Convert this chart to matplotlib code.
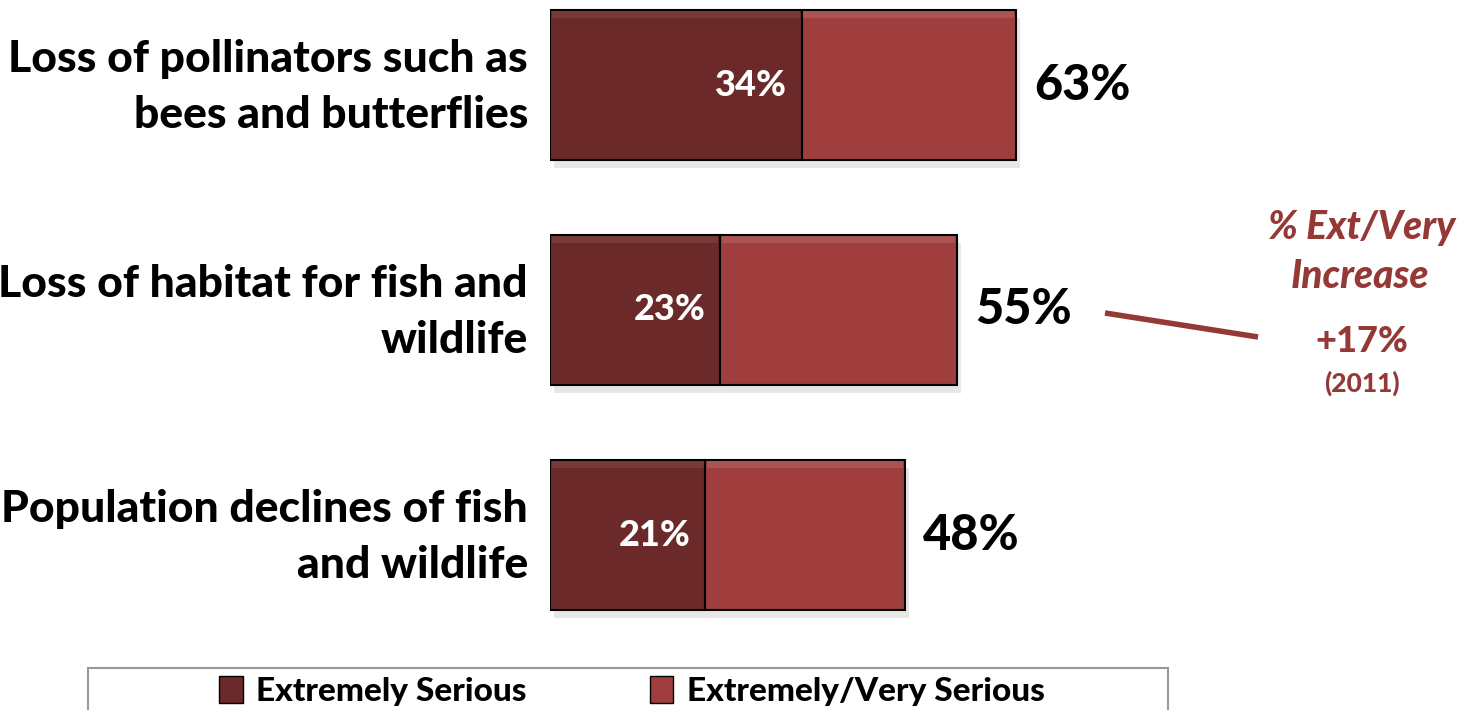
import matplotlib
matplotlib.use("Agg")
import matplotlib.pyplot as plt
from matplotlib.patches import Rectangle, Patch
from matplotlib.lines import Line2D

categories = ["Loss of pollinators such as\nbees and butterflies",
              "Loss of habitat for fish and\nwildlife",
              "Population declines of fish\nand wildlife"]
extremely = [34, 23, 21]
ext_very = [63, 55, 48]
series_names = ["Extremely Serious", "Extremely/Very Serious"]
increase_label = "+17%"
increase_year = "(2011)"

DARK = "#6B2A29"
LIGHT = "#A03D3D"
ANN = "#953937"

plt.rcParams['font.family'] = ['Lato', 'DejaVu Sans']

W, H = 1460, 710
fig = plt.figure(figsize=(W / 100, H / 100), dpi=100)
ax = fig.add_axes([550 / W, 1 - 640 / H, 1 - 550 / W, 640 / H])
ax.set_xlim(0, (W - 550) / 7.4)
ax.set_ylim(2 + 105 / 225, -85 / 225)
ax.axis("off")

bh = 150 / 225
strip = 7 / 225
for i, (e, ev) in enumerate(zip(extremely, ext_very)):
    ax.barh(i + 0.035, ev, left=0.5, height=bh, color="#b0b0b0", alpha=0.3, zorder=1)
    ax.barh(i, e, height=bh, color=DARK, edgecolor="black", linewidth=1.5, zorder=2)
    ax.barh(i, ev - e, left=e, height=bh, color=LIGHT, edgecolor="black", linewidth=1.5, zorder=2)
    # bevel highlights
    ax.barh(i - bh / 2 + strip / 2 + 0.006, e - 0.5, left=0.25, height=strip,
            color="white", alpha=0.08, linewidth=0, zorder=2.5)
    ax.barh(i - bh / 2 + strip / 2 + 0.006, ev - e - 0.5, left=e + 0.25, height=strip,
            color="white", alpha=0.12, linewidth=0, zorder=2.5)
    ax.text(e - 2.0, i, f"{e}%", color="white", fontsize=26, fontweight="black",
            ha="right", va="center", zorder=3)
    ax.text(ev + 2.4, i, f"{ev}%", color="black", fontsize=35, fontweight="black",
            ha="left", va="center", zorder=3)

for i, c in enumerate(categories):
    fig.text(528 / W, 1 - (87 + 225 * i) / H, c, ha="right", va="center",
             fontsize=32, fontweight="black", linespacing=1.5)

# annotation
fig.add_artist(Line2D([1105 / W, 1258 / W], [1 - 313 / H, 1 - 337 / H],
                      color=ANN, linewidth=4, solid_capstyle="butt"))
fig.text(1362 / W, 1 - 228 / H, "% Ext/Very", color=ANN, fontsize=28,
         fontweight="black", fontstyle="italic", ha="center", va="center")
fig.text(1360 / W, 1 - 277 / H, "Increase", color=ANN, fontsize=28,
         fontweight="black", fontstyle="italic", ha="center", va="center")
fig.text(1362 / W, 1 - 341 / H, increase_label, color=ANN, fontsize=26,
         fontweight="black", ha="center", va="center")
fig.text(1362 / W, 1 - 383 / H, increase_year, color=ANN, fontsize=19,
         fontweight="black", ha="center", va="center")

# legend box
fig.add_artist(Rectangle((88 / W, -0.02), (1168 - 88) / W, (710 - 668) / H + 0.02,
                         transform=fig.transFigure, fill=False, edgecolor="#999999", linewidth=1.5))
handles = [Patch(facecolor=DARK, edgecolor="black"), Patch(facecolor=LIGHT, edgecolor="black")]
fig.legend(handles, series_names, loc="center", bbox_to_anchor=(632 / W, 1 - 691 / H),
           ncol=2, frameon=False, prop={'weight': 'black', 'size': 24},
           handlelength=0.7, handleheight=0.85, handletextpad=0.4, columnspacing=3.7)

fig.savefig("out.png", dpi=100)
